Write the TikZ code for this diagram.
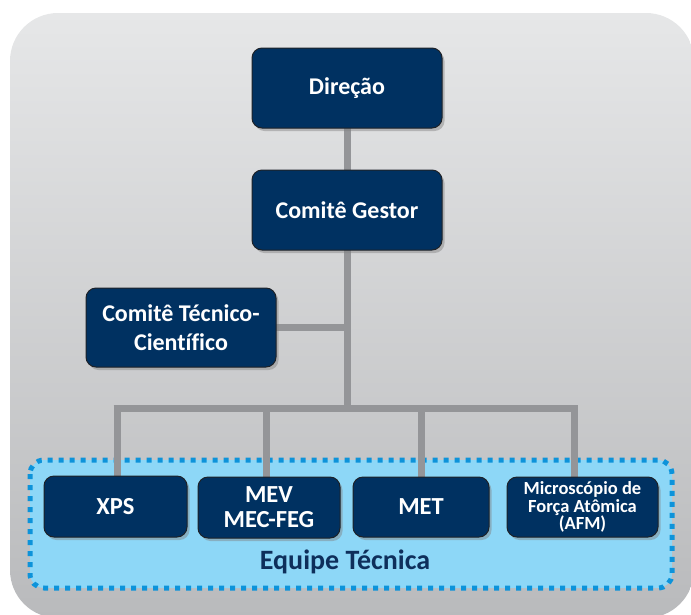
\documentclass[tikz,border=0pt]{standalone}
\usepackage{fontspec}
\setmainfont[Ligatures=NoCommon]{Carlito}
\usetikzlibrary{shadows}
\definecolor{navy}{HTML}{003161}
\definecolor{boxedge}{HTML}{1E2228}
\definecolor{linegray}{HTML}{949598}
\definecolor{bgtop}{HTML}{E6E7E8}
\definecolor{bgmid}{HTML}{E0E1E2}
\definecolor{bgbot}{HTML}{B9BABC}
\definecolor{teamfill}{HTML}{8DD7F7}
\definecolor{teamedge}{HTML}{0D93DA}
\definecolor{teamtext}{HTML}{0E2F5B}
\tikzset{
  orgbox/.style={draw=boxedge, line width=1pt, fill=navy, rounded corners=10pt,
    text=white, font=\bfseries, align=center, inner sep=2pt,
    drop shadow={opacity=0.45, shadow xshift=2.5pt, shadow yshift=-3pt}},
  conn/.style={draw=linegray, line width=7pt},
}
\begin{document}
\begin{tikzpicture}[x=1pt,y=-1pt]
\useasboundingbox (0,0) rectangle (691,614);
\shade[rounded corners=48pt, top color=bgtop, middle color=bgmid, bottom color=bgbot]
  (10,13) rectangle (694,618);
% team area
\draw[fill=teamfill, draw=teamedge, line width=5pt, dash pattern=on 5pt off 6pt, rounded corners=14pt]
  (30,460) rectangle (672,588);
\coordinate (bus) at (347,408);
\coordinate (d1) at (117,408);
\coordinate (d2) at (266,408);
\coordinate (d3) at (421,408);
\coordinate (d4) at (574,408);
\path (347,88) coordinate (pdir) (347,210) coordinate (pcg) (181,327.5) coordinate (pctc);
% connectors
\draw[conn] (pdir) -- (bus);
\draw[conn] (pctc) -- (pctc -| bus);
\draw[conn] ([xshift=-3.5pt]d1) -- ([xshift=3.5pt]d4);
\draw[conn] (d1) -- (d1 |- 0,490);
\draw[conn] (d2) -- (d2 |- 0,490);
\draw[conn] (d3) -- (d3 |- 0,490);
\draw[conn] (d4) -- (d4 |- 0,490);
% boxes
\node[orgbox, minimum width=190pt, minimum height=80pt, font=\bfseries\fontsize{24}{28}\selectfont] (dir) at (pdir) {Direção};
\node[orgbox, minimum width=190pt, minimum height=80pt, font=\bfseries\fontsize{24}{28}\selectfont] (cg) at (pcg) {Comitê Gestor};
\node[orgbox, minimum width=190pt, minimum height=79pt, font=\bfseries\fontsize{24}{29}\selectfont] (ctc) at (pctc) {Comitê Técnico-\\Científico};
\node[orgbox, minimum width=143pt, minimum height=61pt, font=\bfseries\fontsize{24.5}{25}\selectfont] (xps) at (115.5,506.5) {XPS};
\node[orgbox, minimum width=142pt, minimum height=61pt, font=\bfseries\fontsize{24.5}{25}\selectfont] (mev) at (269,507.5) {MEV\\MEC-FEG};
\node[orgbox, minimum width=136pt, minimum height=60pt, font=\bfseries\fontsize{24.5}{25}\selectfont] (met) at (421,507) {MET};
\node[orgbox, minimum width=151pt, minimum height=60pt, font=\bfseries\fontsize{18.5}{17.5}\selectfont] (afm) at (582.5,507) {Microscópio de\\Força Atômica\\(AFM)};
\node[text=teamtext, font=\bfseries\fontsize{28}{30}\selectfont] (team) at (345,562) {Equipe Técnica};
\end{tikzpicture}
\end{document}
